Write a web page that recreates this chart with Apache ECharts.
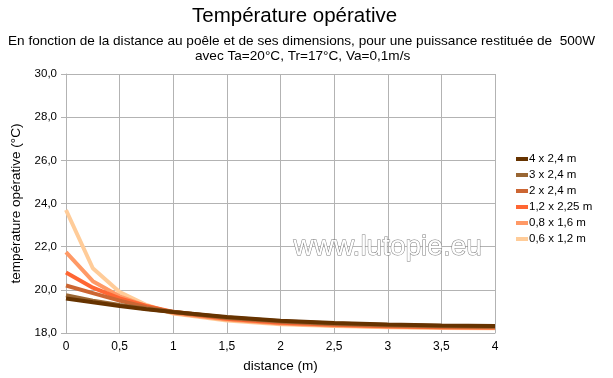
<!DOCTYPE html>
<html>
<head>
<meta charset="utf-8">
<script src="https://cdn.jsdelivr.net/npm/echarts@6/dist/echarts.min.js"></script>
<style>
  html, body { margin: 0; padding: 0; background: #fff; }
  #chart { width: 613px; height: 378px; }
</style>
</head>
<body>
<div id="chart"></div>
<script>
// distances (m)
const distances = [0, 0.25, 0.5, 0.75, 1, 1.5, 2, 2.5, 3, 3.5, 4]
const seriesNames = ["4 x 2,4 m", "3 x 2,4 m", "2 x 2,4 m", "1,2 x 2,25 m", "0,8 x 1,6 m", "0,6 x 1,2 m"]
const temp4x24 = [19.6, 19.42, 19.25, 19.1, 18.97, 18.74, 18.57, 18.46, 18.39, 18.35, 18.32]
const temp3x24 = [19.75, 19.5, 19.3, 19.12, 18.97, 18.72, 18.55, 18.44, 18.37, 18.33, 18.3]
const temp2x24 = [20.2, 19.85, 19.5, 19.2, 18.98, 18.7, 18.52, 18.41, 18.34, 18.3, 18.28]
const temp12x225 = [20.8, 20.1, 19.6, 19.25, 18.97, 18.66, 18.48, 18.38, 18.31, 18.27, 18.25]
const temp08x16 = [21.75, 20.4, 19.7, 19.25, 18.93, 18.62, 18.44, 18.35, 18.29, 18.25, 18.23]
const temp06x12 = [23.7, 21.0, 19.9, 19.3, 18.9, 18.58, 18.4, 18.32, 18.27, 18.23, 18.22]

const allTemps = [temp4x24, temp3x24, temp2x24, temp12x225, temp08x16, temp06x12]
const colors = ["#663300", "#996633", "#cc6633", "#ff6633", "#ff9966", "#ffcc99"]

const chart = echarts.init(document.getElementById("chart"))
const comma = (v, d) => v.toFixed(d).replace(".", ",")

const subStyle = { fontSize: 13.6, fontWeight: "normal", color: "#000" }

const option = {
  animation: false,
  textStyle: { fontFamily: "Liberation Sans" },
  title: [
    {
      text: "Température opérative",
      left: 192,
      top: 6,
      padding: 0,
      textStyle: { fontSize: 20.5, fontWeight: "normal", color: "#000" },
    },
    {
      text: "En fonction de la distance au poêle et de ses dimensions, pour une puissance restituée de  500W",
      left: 8,
      top: 34,
      padding: 0,
      textStyle: subStyle,
    },
    {
      text: "avec Ta=20°C, Tr=17°C, Va=0,1m/s",
      left: 195,
      top: 49,
      padding: 0,
      textStyle: subStyle,
    },
  ],
  legend: {
    orient: "vertical",
    left: 516,
    top: 153,
    padding: 0,
    itemWidth: 12,
    itemHeight: 4,
    itemGap: 4,
    icon: "rect",
    textStyle: { fontSize: 11.5, color: "#000", padding: [0, 0, 0, -4] },
    data: seriesNames,
  },
  grid: { left: 66, right: 118, top: 74, bottom: 44 },
  xAxis: {
    type: "value",
    min: 0,
    max: 4,
    interval: 0.5,
    name: "distance (m)",
    nameLocation: "middle",
    nameGap: 26,
    nameTextStyle: { fontSize: 13.5, color: "#000" },
    axisLine: { lineStyle: { color: "#b3b3b3" } },
    axisTick: { show: false },
    axisLabel: { color: "#000", fontSize: 12, margin: 8, formatter: (v) => (v % 1 === 0 ? String(v) : comma(v, 1)) },
    splitLine: { show: true, lineStyle: { color: "#b3b3b3" } },
  },
  yAxis: {
    type: "value",
    min: 18,
    max: 30,
    interval: 2,
    name: "température opérative (°C)",
    nameLocation: "middle",
    nameGap: 40,
    nameTextStyle: { fontSize: 13.5, color: "#000" },
    axisLine: { show: true, lineStyle: { color: "#b3b3b3" } },
    axisTick: { show: true, length: 5, lineStyle: { color: "#b3b3b3" } },
    axisLabel: { color: "#000", fontSize: 11.5, margin: 9, formatter: (v) => comma(v, 1) },
    splitLine: { show: true, lineStyle: { color: "#b3b3b3" } },
  },
  graphic: [
    {
      type: "text",
      left: 293,
      top: 233,
      z: 100,
      style: {
        text: "www.lutopie.eu",
        font: "28px 'Liberation Sans'",
        fill: "#fff",
        stroke: "#808080",
        lineWidth: 1,
      },
    },
  ],
  series: seriesNames.map((name, i) => ({
    name,
    type: "line",
    showSymbol: false,
    symbol: "none",
    lineStyle: { width: 4, color: colors[i] },
    itemStyle: { color: colors[i] },
    z: 10 - i,
    data: distances.map((d, j) => [d, allTemps[i][j]]),
  })),
}
chart.setOption(option)
</script>
</body>
</html>
